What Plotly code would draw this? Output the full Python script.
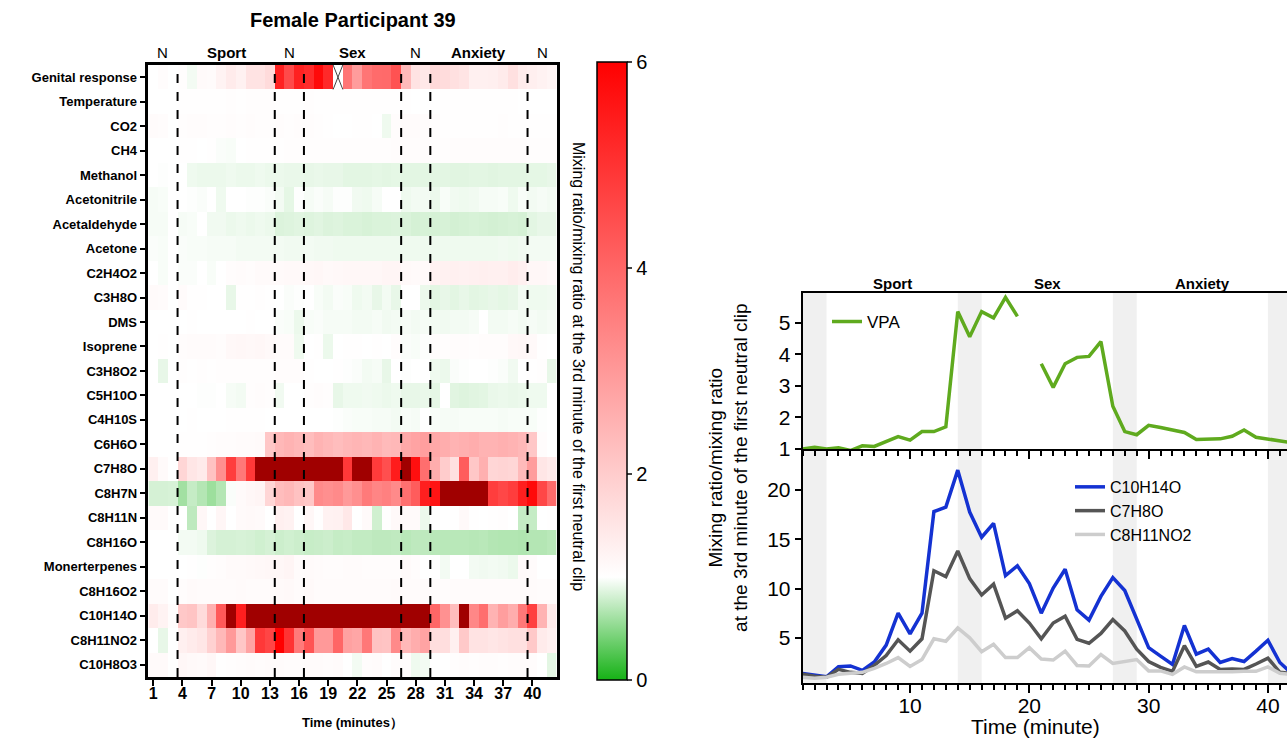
import numpy as np
import plotly.graph_objects as go

nan = float("nan")
minutes = list(range(1, 43))

row_names = ["Genital response", "Temperature", "CO2", "CH4", "Methanol", "Acetonitrile",
             "Acetaldehyde", "Acetone", "C2H4O2", "C3H8O", "DMS", "Isoprene", "C3H8O2",
             "C5H10O", "C4H10S", "C6H6O", "C7H8O", "C8H7N", "C8H11N", "C8H16O",
             "Monerterpenes", "C8H16O2", "C10H14O", "C8H11NO2", "C10H8O3"]

seg_names = ["N", "Sport", "N", "Sex", "N", "Anxiety", "N"]
seg_start = [1, 4, 14, 17, 27, 30, 40]
seg_end = [3, 13, 16, 26, 29, 39, 42]

x_ticks = [1, 4, 7, 10, 13, 16, 19, 22, 25, 28, 31, 34, 37, 40]

vpa = [1.0, 1.05, 1.0, 1.04, 0.95, 1.1, 1.08, 1.23, 1.39, 1.28, 1.55, 1.55, 1.7, 5.35, 4.55, 5.35,
       5.15, 5.8, 5.2, nan, 3.7, 2.95, 3.7, 3.9, 3.93, 4.4, 2.35, 1.55, 1.45, 1.75, 1.68, 1.6,
       1.52, 1.3, 1.3, 1.32, 1.4, 1.6, 1.37, 1.32, 1.25, 1.2]
temperature = [1.0, 1.0, 1.0, 1.01, 1.02, 1.02, 1.01, 1.02, 1.03, 1.02, 1.03, 1.03, 1.03, 1.02, 1.02,
               1.02, 1.03, 1.02, 1.02, 1.02, 1.01, 1.01, 1.01, 1.01, 1.01, 1.01, 1.01, 1.0, 1.0, 1.0,
               1.01, 1.01, 1.01, 1.01, 1.01, 1.01, 1.01, 1.01, 1.0, 1.0, 1.0, 1.0]
co2 = [1.08, 1.06, 1.0, 1.04, 1.05, 1.06, 1.03, 1.04, 1.05, 1.03, 1.06, 1.04, 1.03, 1.05, 1.04, 1.06,
       1.05, 1.03, 1.02, 1.0, 1.0, 1.01, 1.02, 1.0, 0.93, 1.06, 1.08, 1.07, 1.05, 1.03, 1.02, 1.01,
       1.02, 1.02, 1.01, 1.02, 1.03, 1.02, 1.01, 1.02, 1.01, 1.02]
ch4 = [1.0, 1.0, 1.0, 1.01, 1.01, 1.0, 1.01, 0.98, 0.97, 1.0, 1.01, 1.01, 1.02, 1.02, 1.03, 1.03,
       1.03, 1.04, 1.03, 1.03, 1.03, 1.04, 1.04, 1.04, 1.04, 1.05, 1.05, 1.05, 1.05, 1.04, 1.04, 1.05,
       1.05, 1.05, 1.05, 1.05, 1.05, 1.05, 1.05, 1.04, 1.04, 1.03]
methanol = [1.0, 0.99, 1.0, 1.0, 0.93, 0.92, 0.92, 0.92, 0.93, 0.92, 0.92, 0.93, 0.92, 0.92, 0.91,
            0.91, 0.9, 0.91, 0.9, 0.9, 0.88, 0.88, 0.88, 0.89, 0.88, 0.89, 0.88, 0.88, 0.88, 0.88,
            0.88, 0.87, 0.87, 0.88, 0.88, 0.87, 0.88, 0.88, 0.88, 0.89, 0.89, 0.9]
acetonitrile = [0.96, 0.97, 1.0, 1.0, 0.99, 0.98, 1.0, 0.93, 1.0, 1.0, 0.99, 0.99, 0.98, 0.95, 0.89,
                0.99, 0.96, 0.98, 0.96, 0.99, 0.99, 0.94, 0.93, 0.96, 1.0, 1.0, 0.93, 0.95, 0.95,
                0.92, 0.97, 0.94, 0.93, 0.94, 0.96, 0.96, 0.97, 0.93, 0.97, 0.95, 0.96, 0.95]
acetaldehyde = [0.96, 0.96, 1.0, 0.96, 0.97, 1.0, 0.94, 0.94, 0.92, 0.93, 0.92, 0.93, 0.92, 0.85,
                0.86, 0.87, 0.86, 0.87, 0.85, 0.86, 0.84, 0.84, 0.83, 0.84, 0.84, 0.85, 0.84, 0.82,
                0.83, 0.82, 0.83, 0.81, 0.82, 0.83, 0.82, 0.81, 0.82, 0.83, 0.82, 0.88, 0.9, 0.9]
acetone = [0.98, 0.97, 1.0, 0.98, 0.97, 0.97, 0.96, 0.96, 0.96, 0.95, 0.95, 0.95, 0.95, 0.95, 0.94,
           0.94, 0.95, 0.94, 0.94, 0.93, 0.93, 0.93, 0.93, 0.93, 0.93, 0.93, 0.93, 0.93, 0.93, 0.93,
           0.93, 0.93, 0.93, 0.93, 0.93, 0.93, 0.94, 0.93, 0.94, 0.95, 0.95, 0.95]
c2h4o2 = [1.0, 0.97, 1.0, 0.98, 0.98, 1.0, 0.97, 1.0, 1.05, 1.08, 1.06, 1.1, 1.1, 1.1, 1.12, 1.12,
          1.14, 1.15, 1.12, 1.14, 1.15, 1.16, 1.16, 1.16, 1.2, 1.2, 1.12, 1.1, 1.1, 1.25, 1.28, 1.3,
          1.28, 1.3, 1.32, 1.3, 1.3, 1.35, 1.3, 1.15, 1.15, 1.12]
c3h8o = [1.1, 1.08, 1.0, 1.08, 1.02, 1.01, 1.0, 1.0, 0.9, 1.01, 1.02, 1.03, 1.02, 1.0, 0.98, 0.99,
         1.0, 0.97, 0.95, 0.98, 0.97, 0.93, 0.95, 0.9, 0.95, 0.9, 1.0, 1.0, 0.92, 0.88, 0.9, 0.88,
         0.9, 0.88, 0.89, 0.9, 0.89, 0.9, 0.95, 0.93, 0.93, 0.94]
dms = [1.0, 1.0, 1.0, 1.0, 1.01, 1.0, 1.0, 1.0, 1.0, 1.0, 1.01, 1.0, 1.0, 0.98, 0.97, 0.92, 0.97,
       0.98, 0.96, 0.96, 0.96, 0.95, 0.95, 0.96, 0.94, 0.95, 0.96, 0.95, 0.96, 0.95, 0.94, 0.95,
       0.95, 0.96, 1.0, 0.95, 0.95, 0.96, 0.95, 0.96, 0.95, 0.96]
isoprene = [1.0, 1.01, 1.0, 1.06, 1.08, 1.07, 1.08, 1.06, 1.14, 1.15, 1.13, 1.15, 1.12, 1.08, 1.07,
            0.93, 1.0, 1.01, 0.92, 1.0, 1.02, 1.01, 1.0, 1.01, 1.0, 1.06, 0.98, 0.97, 0.99, 1.05,
            1.04, 1.05, 1.06, 1.04, 1.05, 1.06, 1.05, 1.14, 1.16, 1.12, 1.01, 1.0]
c3h8o2 = [1.0, 0.9, 1.0, 1.03, 1.02, 1.03, 1.02, 1.03, 1.04, 1.03, 1.03, 1.04, 1.03, 1.06, 1.06,
          1.05, 1.01, 1.0, 1.0, 1.01, 0.99, 0.98, 0.95, 0.96, 0.9, 1.0, 0.99, 1.0, 1.0, 0.93, 0.92,
          0.98, 0.99, 1.0, 1.0, 0.99, 0.98, 0.94, 1.0, 1.02, 1.04, 0.9]
c5h10o = [1.0, 1.0, 1.0, 1.0, 1.0, 0.99, 0.99, 1.0, 0.96, 0.95, 1.04, 1.05, 1.03, 0.94, 1.0, 1.0,
          1.04, 1.05, 1.03, 0.9, 0.93, 0.93, 0.94, 0.93, 0.92, 0.93, 0.9, 0.9, 0.91, 0.89, 1.0, 0.87,
          0.86, 0.87, 0.88, 0.91, 0.92, 0.91, 0.92, 0.93, 0.93, 1.0]
c4h10s = [1.0, 1.0, 1.0, 1.0, 1.01, 1.0, 1.0, 1.0, 1.01, 1.01, 1.02, 1.01, 1.0, 1.0, 1.0, 1.0, 1.0,
          1.0, 1.0, 0.99, 0.98, 0.97, 0.97, 0.96, 0.96, 0.95, 0.97, 0.96, 1.0, 0.97, 0.96, 0.96,
          0.97, 0.97, 0.97, 0.97, 0.96, 0.97, 0.97, 0.97, 0.99, 1.0]
c6h6o = [1.0, 1.0, 1.0, 1.01, 1.02, 1.02, 1.03, 1.05, 1.06, 1.08, 1.08, 1.1, 2.1, 2.4, 2.5, 2.4, 2.3,
         2.5, 2.4, 2.3, 2.4, 2.45, 2.4, 2.5, 2.35, 2.4, 2.7, 2.8, 2.9, 2.7, 2.6, 2.5, 2.55, 2.6, 2.5,
         2.5, 2.55, 2.5, 2.4, 2.1, 1.05, 1.0]
c7h8o = [1.3, 1.1, 1.0, 1.8, 1.5, 1.4, 2.2, 3.2, 4.8, 3.65, 4.9, 11.8, 11.2, 13.8, 11.0, 9.35, 10.45,
         7.0, 7.75, 6.5, 4.9, 6.5, 7.2, 4.85, 4.45, 5.45, 6.85, 5.7, 3.85, 2.6, 2.0, 1.6, 4.2, 2.1,
         2.55, 1.8, 1.85, 1.8, 2.35, 2.95, 1.5, 1.4]
c8h7n = [0.82, 0.82, 0.83, 0.6, 0.75, 0.68, 0.58, 0.68, 0.98, 1.1, 1.15, 1.2, 1.8, 2.3, 2.4, 2.2, 2.1,
         3.3, 3.2, 3.3, 3.0, 3.2, 3.6, 3.4, 3.5, 3.3, 3.8, 4.2, 5.4, 5.6, 7.5, 7.5, 7.5, 7.5, 7.5, 4.8,
         4.6, 4.8, 5.4, 5.8, 4.6, 3.9]
c8h11n = [1.1, 1.1, 1.0, 1.0, 0.72, 1.15, 1.0, 1.18, 1.0, 1.1, 1.12, 1.1, 1.0, 1.3, 1.25, 1.0, 1.15,
          1.02, 1.25, 1.28, 1.45, 1.0, 1.1, 0.8, 1.02, 1.12, 1.1, 1.1, 0.92, 1.0, 1.0, 1.02, 1.12,
          1.02, 1.0, 1.02, 1.03, 1.0, 0.75, 0.75, 1.0, 1.02]
c8h16o = [1.0, 1.0, 1.0, 0.95, 0.95, 0.93, 0.85, 0.82, 0.82, 0.83, 0.82, 0.8, 0.82, 0.78, 0.8, 0.78,
          0.76, 0.77, 0.78, 0.75, 0.76, 0.74, 0.74, 0.72, 0.72, 0.73, 0.7, 0.72, 0.72, 0.7, 0.7, 0.7,
          0.7, 0.69, 0.7, 0.68, 0.67, 0.67, 0.66, 0.68, 0.68, 0.7]
monoterpenes = [1.0, 1.0, 1.0, 1.0, 1.01, 0.99, 1.03, 1.05, 1.1, 1.1, 1.12, 1.14, 1.15, 1.15, 1.2,
                1.08, 1.1, 1.08, 1.06, 1.05, 1.07, 1.08, 1.06, 1.05, 1.06, 1.05, 1.1, 1.06, 1.0, 1.0,
                0.95, 1.0, 1.0, 0.95, 0.94, 0.95, 0.94, 0.92, 1.1, 1.08, 1.0, 1.0]
c8h16o2 = [1.08, 1.07, 1.0, 1.05, 1.1, 1.08, 1.07, 1.08, 1.07, 1.1, 1.08, 1.08, 1.08, 1.1, 1.12, 1.08,
           1.12, 1.08, 1.08, 1.07, 1.07, 1.08, 1.08, 1.07, 1.07, 1.09, 1.08, 1.08, 1.08, 1.06, 1.06,
           1.07, 1.07, 1.08, 1.08, 1.07, 1.07, 1.08, 1.08, 1.08, 1.06, 1.05]
c10h14o = [1.38, 1.24, 1.05, 2.08, 2.15, 1.7, 2.55, 4.26, 7.5, 5.4, 7.5, 17.8, 18.25, 22.0, 17.75,
           15.2, 16.6, 11.3, 12.3, 10.5, 7.5, 10.05, 11.95, 7.85, 6.8, 9.2, 11.1, 9.8, 6.85, 4.0,
           3.15, 2.3, 6.25, 3.35, 3.85, 2.5, 2.9, 2.6, 3.65, 4.75, 2.5, 1.4]
c8h11no2 = [1.0, 0.9, 1.0, 1.3, 1.4, 1.5, 1.9, 2.4, 3.0, 2.1, 2.8, 4.9, 4.65, 6.0, 5.0, 3.6, 4.35, 3.0,
            3.0, 4.0, 2.85, 2.75, 3.65, 2.2, 2.15, 3.3, 2.4, 2.6, 2.8, 1.65, 1.65, 1.3, 2.05, 1.55,
            1.55, 1.5, 1.55, 1.6, 1.6, 2.05, 1.4, 1.3]
c10h8o3 = [1.1, 1.1, 1.0, 1.15, 1.12, 1.1, 1.15, 1.02, 1.03, 1.05, 1.08, 1.06, 1.08, 1.08, 1.06, 1.06,
           1.08, 1.07, 1.06, 1.07, 1.0, 0.95, 1.06, 1.07, 1.0, 1.06, 1.05, 0.93, 0.95, 1.0, 1.0, 1.04,
           1.05, 1.04, 1.05, 1.05, 1.04, 1.05, 1.06, 1.05, 1.0, 0.88]

rows = [vpa, temperature, co2, ch4, methanol, acetonitrile, acetaldehyde, acetone, c2h4o2, c3h8o,
        dms, isoprene, c3h8o2, c5h10o, c4h10s, c6h6o, c7h8o, c8h7n, c8h11n, c8h16o, monoterpenes,
        c8h16o2, c10h14o, c8h11no2, c10h8o3]

# ---------------- layout geometry (pixels) ----------------
W, H = 1287, 738
SY = 1.015  # vertical correction
def px(x):
    return x / W
def py(y):
    return 1 - (y * SY) / H

FONT = "Arial, Liberation Sans, sans-serif"
Z = np.array(rows, dtype=float)
ZMAX = 6.0
z_main = np.where(Z > ZMAX, np.nan, Z)
z_over = np.where(Z > ZMAX, 1.0, np.nan)
row_idx = list(range(len(row_names)))

def clean(a):
    return [None if np.isnan(v) else v for v in a]

fig = go.Figure()

fig.add_trace(go.Heatmap(
    z=[clean(r) for r in z_main], x=minutes, y=row_idx, zmin=0, zmax=ZMAX,
    colorscale=[[0, "rgb(22,178,22)"], [1 / 6, "rgb(255,255,255)"], [1, "rgb(255,0,0)"]],
    xaxis="x", yaxis="y", hoverongaps=False,
    colorbar=dict(x=px(597), xanchor="left", y=py(371), yanchor="middle", xpad=0, ypad=0,
                  len=py(62) - py(680), thickness=30, outlinewidth=1.5, outlinecolor="black",
                  tickvals=[0, 2, 4, 6], ticks="outside", ticklen=5, tickwidth=1.5,
                  tickfont=dict(size=20, family=FONT, color="black"))))
fig.add_trace(go.Heatmap(
    z=[clean(r) for r in z_over], x=minutes, y=row_idx, showscale=False,
    colorscale=[[0, "rgb(160,0,0)"], [1, "rgb(160,0,0)"]], xaxis="x", yaxis="y",
    hoverongaps=False))

# X mark on missing cells
for ri, r in enumerate(Z):
    for ci, v in enumerate(r):
        if np.isnan(v):
            m = minutes[ci]
            fig.add_trace(go.Scatter(x=[m - 0.5, m + 0.5, None, m - 0.5, m + 0.5],
                                     y=[ri - 0.5, ri + 0.5, None, ri + 0.5, ri - 0.5],
                                     mode="lines", line=dict(color="#444", width=1),
                                     showlegend=False, xaxis="x", yaxis="y", hoverinfo="skip"))

# ---------------- right panels ----------------
fig.add_trace(go.Scatter(x=minutes, y=clean(np.array(vpa)), mode="lines", name="VPA",
                         line=dict(color="rgb(95,170,30)", width=3.5), connectgaps=False,
                         xaxis="x2", yaxis="y2", legend="legend"))
for name, data, col in [("C10H14O", c10h14o, "rgb(20,50,210)"),
                        ("C7H8O", c7h8o, "rgb(85,85,85)"),
                        ("C8H11NO2", c8h11no2, "rgb(205,205,205)")]:
    fig.add_trace(go.Scatter(x=minutes, y=data, mode="lines", name=name,
                             line=dict(color=col, width=3.5), xaxis="x3", yaxis="y3",
                             legend="legend2"))

shapes = []
for i in range(1, len(seg_start)):
    b = seg_start[i] - 0.5
    shapes.append(dict(type="line", xref="x", yref="y domain", x0=b, x1=b, y0=0, y1=1,
                       line=dict(color="black", width=2, dash="dash")))
for nm, s, e in zip(seg_names, seg_start, seg_end):
    if nm == "N":
        for xr, yr in [("x2", "y2 domain"), ("x3", "y3 domain")]:
            shapes.append(dict(type="rect", xref=xr, yref=yr, x0=s, x1=e, y0=0, y1=1,
                               fillcolor="rgb(240,240,240)", line=dict(width=0), layer="below"))

def ann(text, x, y, size, xref="paper", angle=0, yanchor="middle"):
    return dict(text=text, x=x, y=y, xref=xref, yref="paper", xanchor="center",
                yanchor=yanchor, showarrow=False, textangle=angle,
                font=dict(size=size, family=FONT, color="black"))

annotations = [
    ann("<b>Female Participant 39</b>", px(352.5), py(20), 20),
    ann("<b>Time (minutes）</b>", px(352.5), -5 / H, 13, yanchor="bottom"),
    ann("Time (minute)", px(1035), -13 / H, 21, yanchor="bottom"),
    ann("Mixing ratio/mixing ratio at the 3rd minute of the first neutral clip",
        px(578), py(366), 16, angle=90),
    ann("Mixing ratio/mixing ratio<br>at the 3rd minute of the first neutral clip",
        px(728), py(468), 19, angle=-90),
]
for nm, s, e in zip(seg_names, seg_start, seg_end):
    c = (s + e) / 2
    txt = nm if nm == "N" else "<b>%s</b>" % nm
    annotations.append(ann(txt, c, py(53), 15, xref="x"))
    if nm != "N":
        annotations.append(ann("<b>%s</b>" % nm, c, py(284), 15, xref="x2"))

ax_common = dict(showline=True, linecolor="black", color="black", showgrid=False, zeroline=False)

fig.update_layout(
    width=W, height=H, margin=dict(l=0, r=0, t=0, b=0),
    paper_bgcolor="white", plot_bgcolor="rgba(0,0,0,0)",
    font=dict(family=FONT, color="black"),
    xaxis=dict(domain=[px(148.4), px(556.7)], range=[0.5, 42.5], anchor="y",
               tickvals=x_ticks, ticks="outside", ticklen=6, tickwidth=2, linewidth=2.5,
               mirror=True, ticklabelstandoff=-6,
               tickfont=dict(size=16, family=FONT, weight="bold"), **ax_common),
    yaxis=dict(domain=[py(677), py(65)], range=[len(row_names) - 0.5, -0.5], anchor="x",
               tickvals=row_idx, ticktext=row_names, ticks="outside", ticklen=6, tickwidth=2,
               linewidth=2.5, mirror=True, tickfont=dict(size=13, family=FONT, weight="bold"),
               **ax_common),
    xaxis2=dict(domain=[px(802.7), 1], range=[1, 41.6], anchor="y2", showticklabels=False,
                tick0=0, dtick=10, ticks="outside", ticklen=8, tickwidth=2, linewidth=2,
                mirror=True, minor=dict(dtick=1, tick0=0, ticks="outside", ticklen=5, tickwidth=1.5),
                **ax_common),
    yaxis2=dict(domain=[py(449), py(293)], range=[1, 5.94], anchor="x2", tickvals=[1, 2, 3, 4, 5],
                ticks="outside", ticklen=6, tickwidth=2, linewidth=2,
                tickfont=dict(size=21, family=FONT), **ax_common),
    xaxis3=dict(domain=[px(802.7), 1], range=[1, 41.6], anchor="y3", tick0=0, dtick=10,
                ticks="outside", ticklen=8, tickwidth=2, linewidth=2, ticklabelstandoff=-5,
                minor=dict(dtick=1, tick0=0, ticks="outside", ticklen=5, tickwidth=1.5),
                tickfont=dict(size=21, family=FONT), **ax_common),
    yaxis3=dict(domain=[py(683.3), py(449)], range=[0.4, 24.15], anchor="x3",
                tickvals=[5, 10, 15, 20], ticks="outside", ticklen=6, tickwidth=2, linewidth=2,
                tickfont=dict(size=21, family=FONT), **ax_common),
    legend=dict(x=px(827), y=py(304), xanchor="left", yanchor="top", bgcolor="rgba(0,0,0,0)",
                font=dict(size=17, family=FONT)),
    legend2=dict(x=px(1070), y=py(470), xanchor="left", yanchor="top", bgcolor="rgba(0,0,0,0)",
                 font=dict(size=16, family=FONT), tracegroupgap=0),
    shapes=shapes, annotations=annotations,
)

post = ("var gd=document.getElementById('{plot_id}');"
        "var de=document.documentElement, b=document.body;"
        "de.style.margin='0';b.style.margin='0';de.style.padding='0';b.style.padding='0';"
        "de.style.overflow='hidden';b.style.overflow='hidden';"
        "de.style.height='738px';b.style.height='738px';"
        "if(gd&&gd.parentElement){gd.parentElement.style.height='738px';"
        "gd.parentElement.style.overflow='hidden';}")

fig.write_html("out.html", config={"displayModeBar": False}, post_script=post)
